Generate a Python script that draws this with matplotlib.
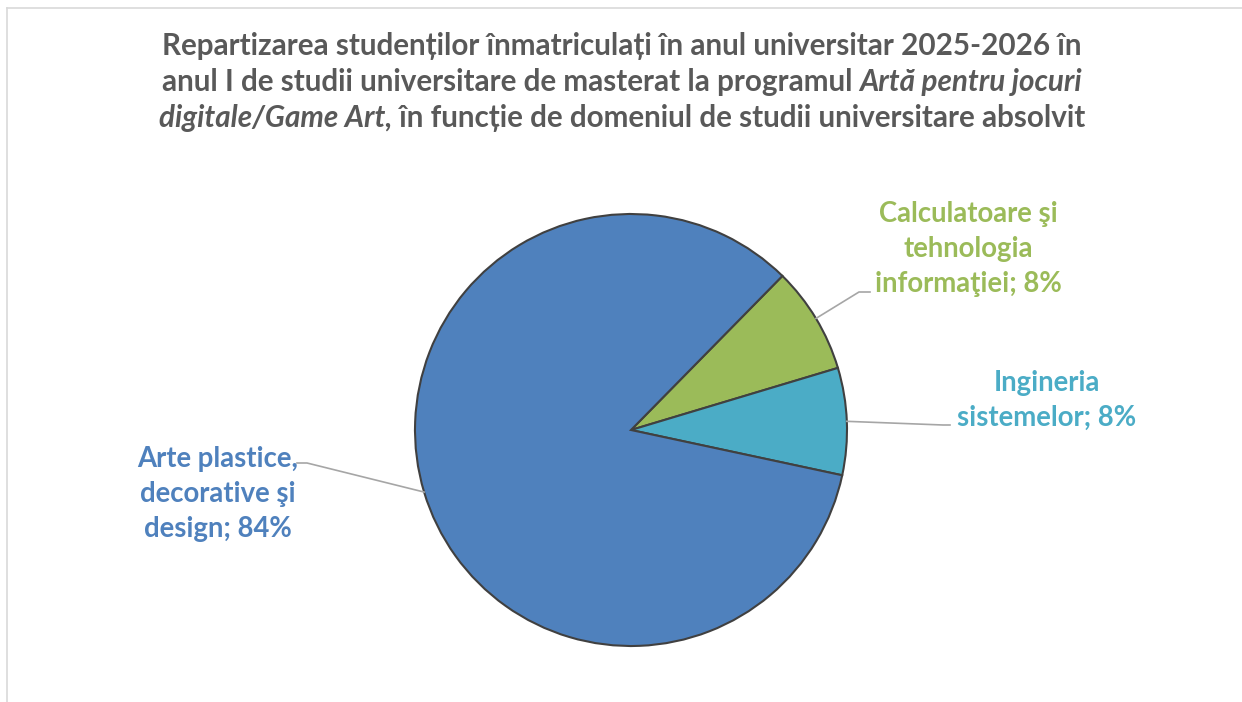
import numpy as np
import matplotlib
matplotlib.use("Agg")
import matplotlib.pyplot as plt

# data
labels = ["Calculatoare şi\ntehnologia\ninformaţiei", "Ingineria\nsistemelor", "Arte plastice,\ndecorative şi\ndesign"]
counts = [2, 2, 21]
percents = ["8%", "8%", "84%"]
colors = ["#9BBB59", "#4BACC6", "#4F81BD"]

W, H = 1242, 702
plt.rcParams['font.family'] = ['Lato', 'DejaVu Sans']

fig = plt.figure(figsize=(W / 100, H / 100), dpi=100)
ax = fig.add_axes([0, 0, 1, 1])

# pie in pixel-like coords (y up)
cx, cy, r = 631, H - 430, 216
wedges, _ = ax.pie(counts, colors=colors, startangle=45.5, counterclock=False,
                   center=(cx, cy), radius=r,
                   wedgeprops=dict(edgecolor="#404040", linewidth=1.5))
ax.set_xlim(0, W)
ax.set_ylim(0, H)
ax.set_aspect("equal")
ax.axis("off")

# frame lines like the excel chart border
fig.add_artist(plt.Line2D([7 / W, 1], [1 - 8 / H, 1 - 8 / H], color="#D9D9D9", lw=1.2))
fig.add_artist(plt.Line2D([7 / W, 7 / W], [0, 1 - 8 / H], color="#D9D9D9", lw=1.2))

# data labels with leader lines
label_pos = [(968, 249), (1047, 400), (218, 494)]
elbows = [[(859, 292), (870, 292)], [(943, 425), (950, 425)], [(307, 463), (297, 463)]]
for w, lab, pct, col, (lx, ly), elb in zip(wedges, labels, percents, colors, label_pos, elbows):
    mid = np.deg2rad((w.theta1 + w.theta2) / 2)
    ax0 = cx + r * np.cos(mid)
    ay0 = cy + r * np.sin(mid)
    xs = [ax0] + [p[0] for p in elb]
    ys = [ay0] + [H - p[1] for p in elb]
    ax.plot(xs, ys, color="#A6A6A6", lw=1.2)
    ax.text(lx, H - ly, lab + "; " + pct, ha="center", va="center", color=col,
            fontsize=19.8, fontweight="bold", linespacing=1.42)

# title with mixed italic pieces
title_lines = [
    [("Repartizarea studenților înmatriculați în anul universitar 2025-2026 în", "normal")],
    [("anul I de studii universitare de masterat la programul ", "normal"), ("Artă pentru jocuri", "italic")],
    [("digitale/Game Art,", "italic"), (" în funcție de domeniul de studii universitare absolvit", "normal")],
]
title_y = [44, 80, 116]
title_cx = 622
fig.canvas.draw()
renderer = fig.canvas.get_renderer()
for pieces, ty in zip(title_lines, title_y):
    texts = []
    for s, style in pieces:
        t = fig.text(0, 1 - ty / H, s, ha="left", va="center_baseline", fontsize=21.3,
                     fontweight="bold", style=style, color="#595959")
        texts.append(t)
    widths = [t.get_window_extent(renderer).width for t in texts]
    x = title_cx - sum(widths) / 2
    for t, wd in zip(texts, widths):
        t.set_x(x / W)
        x += wd

fig.savefig("out.png", dpi=100, facecolor="white")
